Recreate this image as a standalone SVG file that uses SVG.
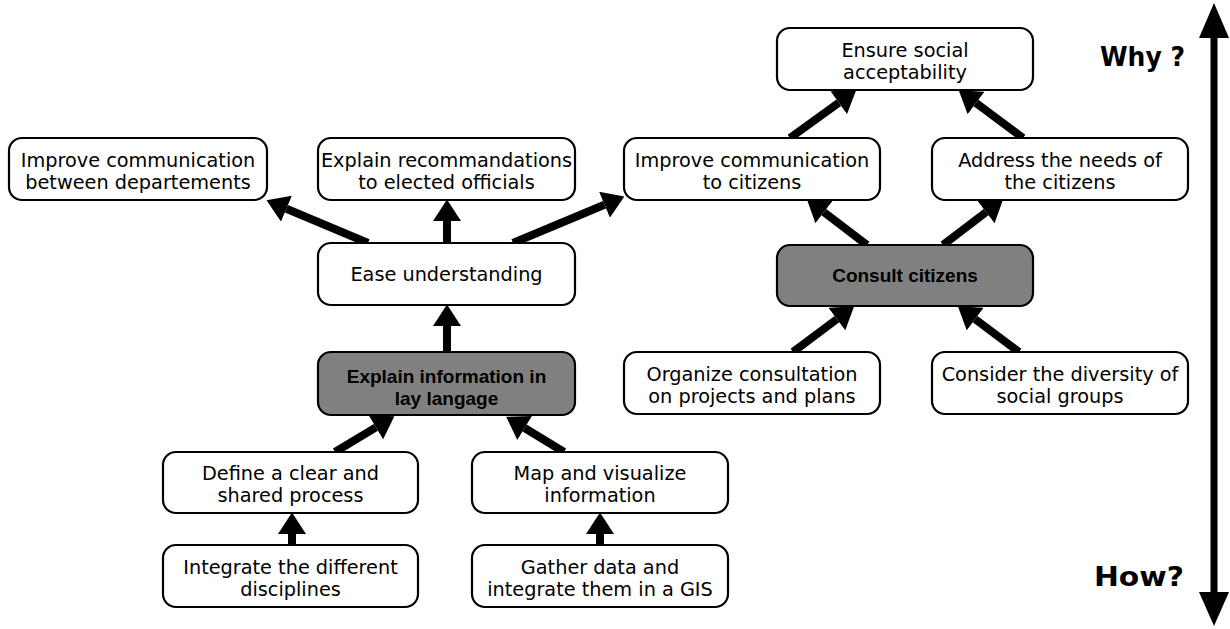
<svg xmlns="http://www.w3.org/2000/svg" width="1230" height="629" viewBox="0 0 1230 629">
  <style>
    .box { fill: #ffffff; stroke: #000000; stroke-width: 2.2; }
    .key { fill: #808080; stroke: #000000; stroke-width: 2.2; }
    .t { font-family: "DejaVu Sans", "Liberation Sans", sans-serif; font-size: 19.3px; fill: #000000; text-anchor: middle; }
    .b { font-family: "Liberation Sans", "DejaVu Sans", sans-serif; font-size: 19px; font-weight: bold; fill: #000000; text-anchor: middle; }
    .axis { font-family: "DejaVu Sans", "Liberation Sans", sans-serif; font-size: 26px; font-weight: bold; fill: #000000; text-anchor: end; }
    .link { stroke: #000000; stroke-width: 8; fill: none; }
  </style>
  <defs>
    <marker id="head" markerUnits="userSpaceOnUse" markerWidth="22" markerHeight="28" viewBox="0 -13 20 26" refX="0" refY="0" orient="auto">
      <path d="M0,-13 L20,0 L0,13 Z" fill="#000000"/>
    </marker>
  </defs>

  <!-- connectors: each line stops at the arrowhead base; the marker supplies the tip -->
  <g id="connectors">
    <line class="link" x1="368" y1="243" x2="286.4" y2="208.7" marker-end="url(#head)"/>
    <line class="link" x1="447" y1="243" x2="447" y2="221" marker-end="url(#head)"/>
    <line class="link" x1="513" y1="243" x2="604.5" y2="204.7" marker-end="url(#head)"/>
    <line class="link" x1="447" y1="352" x2="447" y2="326" marker-end="url(#head)"/>
    <line class="link" x1="790" y1="138" x2="838.8" y2="102.7" marker-end="url(#head)"/>
    <line class="link" x1="1023" y1="138" x2="976" y2="103" marker-end="url(#head)"/>
    <line class="link" x1="867" y1="245" x2="823.9" y2="212.1" marker-end="url(#head)"/>
    <line class="link" x1="943" y1="245" x2="986.1" y2="212.1" marker-end="url(#head)"/>
    <line class="link" x1="793" y1="352" x2="836.9" y2="319.1" marker-end="url(#head)"/>
    <line class="link" x1="1019" y1="352" x2="975.1" y2="319.1" marker-end="url(#head)"/>
    <line class="link" x1="335" y1="452" x2="375.9" y2="427.3" marker-end="url(#head)"/>
    <line class="link" x1="564" y1="452" x2="524.6" y2="428" marker-end="url(#head)"/>
    <line class="link" x1="292" y1="545" x2="292" y2="534" marker-end="url(#head)"/>
    <line class="link" x1="600" y1="545" x2="600" y2="534" marker-end="url(#head)"/>
  </g>

  <!-- why / how axis -->
  <g id="axis">
    <rect x="1210.5" y="30" width="7" height="570" fill="#000000"/>
    <path d="M1214,3 L1229,38 L1199,38 Z" fill="#000000"/>
    <path d="M1214,626 L1229,592 L1199,592 Z" fill="#000000"/>
    <text class="axis" x="1185" y="66" textLength="85" lengthAdjust="spacingAndGlyphs">Why ?</text>
    <text class="axis" x="1184" y="586" textLength="90" lengthAdjust="spacingAndGlyphs">How?</text>
  </g>

  <g id="n-comm-departments">
    <rect class="box" x="9" y="138" width="258" height="62" rx="13"/>
    <text class="t" x="138" y="167">Improve communication</text>
    <text class="t" x="138" y="189">between departements</text>
  </g>
  <g id="n-explain-officials">
    <rect class="box" x="318" y="138" width="257" height="62" rx="13"/>
    <text class="t" x="446.5" y="167">Explain recommandations</text>
    <text class="t" x="446.5" y="189">to elected officials</text>
  </g>
  <g id="n-comm-citizens">
    <rect class="box" x="624" y="138" width="256" height="62" rx="13"/>
    <text class="t" x="752" y="167">Improve communication</text>
    <text class="t" x="752" y="189">to citizens</text>
  </g>
  <g id="n-needs">
    <rect class="box" x="932" y="138" width="256" height="62" rx="13"/>
    <text class="t" x="1060" y="167">Address the needs of</text>
    <text class="t" x="1060" y="189">the citizens</text>
  </g>
  <g id="n-acceptability">
    <rect class="box" x="777" y="28" width="256" height="62" rx="13"/>
    <text class="t" x="905" y="57">Ensure social</text>
    <text class="t" x="905" y="79">acceptability</text>
  </g>
  <g id="n-ease">
    <rect class="box" x="318" y="243" width="257" height="62" rx="13"/>
    <text class="t" x="446.5" y="281">Ease understanding</text>
  </g>
  <g id="n-lay-language">
    <rect class="key" x="318" y="352" width="257" height="63" rx="13"/>
    <text class="b" x="446.5" y="383">Explain information in</text>
    <text class="b" x="446.5" y="405">lay langage</text>
  </g>
  <g id="n-consult">
    <rect class="key" x="777" y="245" width="256" height="61" rx="13"/>
    <text class="b" x="905" y="282">Consult citizens</text>
  </g>
  <g id="n-organize">
    <rect class="box" x="624" y="352" width="256" height="62" rx="13"/>
    <text class="t" x="752" y="381">Organize consultation</text>
    <text class="t" x="752" y="403">on projects and plans</text>
  </g>
  <g id="n-diversity">
    <rect class="box" x="932" y="352" width="256" height="62" rx="13"/>
    <text class="t" x="1060" y="381">Consider the diversity of</text>
    <text class="t" x="1060" y="403">social groups</text>
  </g>
  <g id="n-process">
    <rect class="box" x="163" y="452" width="255" height="61" rx="13"/>
    <text class="t" x="290.5" y="480">Define a clear and</text>
    <text class="t" x="290.5" y="502">shared process</text>
  </g>
  <g id="n-map">
    <rect class="box" x="472" y="452" width="256" height="61" rx="13"/>
    <text class="t" x="600" y="480">Map and visualize</text>
    <text class="t" x="600" y="502">information</text>
  </g>
  <g id="n-disciplines">
    <rect class="box" x="163" y="545" width="255" height="62" rx="13"/>
    <text class="t" x="290.5" y="574">Integrate the different</text>
    <text class="t" x="290.5" y="596">disciplines</text>
  </g>
  <g id="n-gis">
    <rect class="box" x="472" y="545" width="256" height="62" rx="13"/>
    <text class="t" x="600" y="574">Gather data and</text>
    <text class="t" x="600" y="596">integrate them in a GIS</text>
  </g>
</svg>
